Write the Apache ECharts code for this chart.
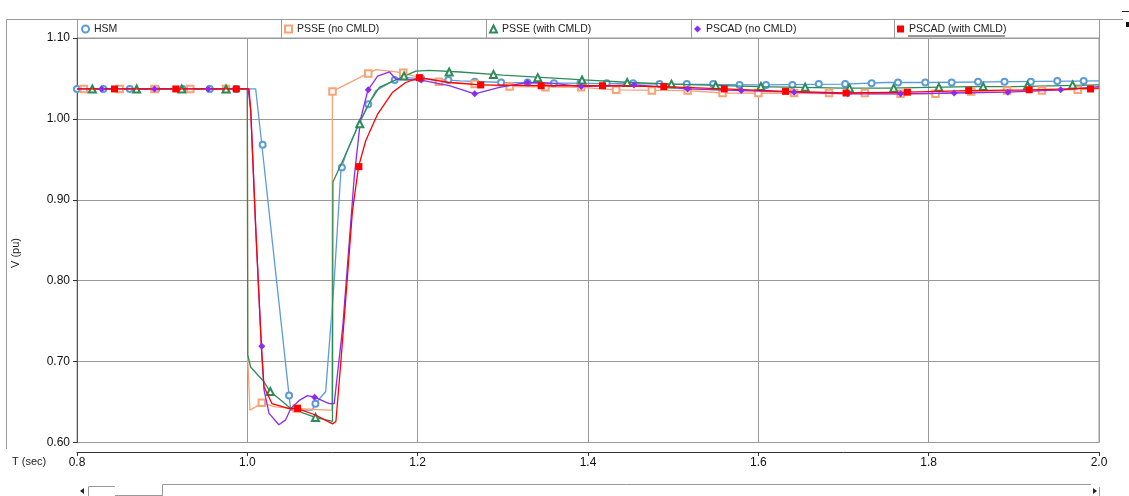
<!DOCTYPE html>
<html>
<head>
<meta charset="utf-8">
<title>V (pu) vs T (sec)</title>
<script src="https://cdn.jsdelivr.net/npm/echarts@6/dist/echarts.min.js"></script>
<style>
  html, body { margin: 0; padding: 0; background: #fff; }
  #chart { width: 1129px; height: 496px; }
</style>
</head>
<body>
<div id="chart"></div>
<script>
// tick labels
const xTickLabels = ['0.8', '1.0', '1.2', '1.4', '1.6', '1.8', '2.0'];
const yTickLabels = ['0.60', '0.70', '0.80', '0.90', '1.00', '1.10'];

const seriesNames = ['HSM', 'PSSE (no CMLD)', 'PSSE (with CMLD)', 'PSCAD (no CMLD)', 'PSCAD (with CMLD)'];

// [T (sec), V (pu)]
const hsmLine = [[0.8, 1.037], [1.0098, 1.037], [1.0165, 0.973], [1.049, 0.658], [1.051, 0.640], [1.076, 0.640],
  [1.080, 0.648], [1.092, 0.663], [1.102, 0.80], [1.110, 0.938], [1.116, 0.957], [1.131, 0.994], [1.141, 1.016],
  [1.151, 1.035], [1.1725, 1.048], [1.186, 1.051], [1.2, 1.050], [1.25, 1.047], [1.3, 1.045], [1.4, 1.044],
  [1.5, 1.043], [1.6, 1.042], [1.7, 1.043], [1.75, 1.045], [1.8, 1.045], [1.9, 1.046], [2.0, 1.047]];
const hsmMarks = [[0.800, 1.037], [0.831, 1.037], [0.862, 1.037], [0.893, 1.037], [0.924, 1.037], [0.956, 1.037],
  [0.987, 1.037], [1.018, 0.968], [1.049, 0.658], [1.080, 0.648], [1.111, 0.940], [1.142, 1.018], [1.173, 1.048],
  [1.204, 1.050], [1.236, 1.048], [1.267, 1.046], [1.298, 1.045], [1.329, 1.045], [1.360, 1.044], [1.391, 1.044],
  [1.422, 1.044], [1.453, 1.044], [1.484, 1.043], [1.516, 1.043], [1.547, 1.043], [1.578, 1.042], [1.609, 1.042],
  [1.640, 1.042], [1.671, 1.043], [1.702, 1.043], [1.733, 1.044], [1.764, 1.045], [1.796, 1.045], [1.827, 1.045],
  [1.858, 1.046], [1.889, 1.046], [1.920, 1.046], [1.951, 1.047], [1.982, 1.047]];

const psseNoLine = [[0.8, 1.037], [1.0, 1.037], [1.0005, 0.706], [1.003, 0.640], [1.004, 0.638], [1.0098, 0.644],
  [1.0165, 0.649], [1.033, 0.644], [1.057, 0.642], [1.096, 0.640], [1.0993, 0.640], [1.0999, 1.034], [1.141, 1.056],
  [1.151, 1.061], [1.175, 1.058], [1.2, 1.052], [1.225, 1.046], [1.267, 1.043], [1.308, 1.040], [1.392, 1.039],
  [1.433, 1.036], [1.517, 1.035], [1.558, 1.032], [1.767, 1.031], [1.808, 1.031], [1.850, 1.034], [1.933, 1.035],
  [2.0, 1.037]];
const psseNoMarks = [[0.808, 1.037], [0.850, 1.037], [0.891, 1.037], [0.933, 1.037], [0.975, 1.037], [1.017, 0.649],
  [1.058, 0.642], [1.100, 1.034], [1.142, 1.056], [1.183, 1.057], [1.225, 1.046], [1.267, 1.043], [1.308, 1.040],
  [1.350, 1.039], [1.392, 1.039], [1.433, 1.036], [1.475, 1.035], [1.517, 1.035], [1.558, 1.032], [1.600, 1.032],
  [1.642, 1.032], [1.683, 1.032], [1.725, 1.032], [1.767, 1.031], [1.808, 1.031], [1.850, 1.034], [1.892, 1.035],
  [1.933, 1.035], [1.975, 1.036]];

const psseWithLine = [[0.8, 1.037], [1.0, 1.037], [1.0005, 0.708], [1.004, 0.693], [1.018, 0.677], [1.027, 0.663],
  [1.051, 0.642], [1.080, 0.631], [1.100, 0.626], [1.1005, 0.922], [1.114, 0.953], [1.131, 0.994], [1.145, 1.023],
  [1.155, 1.039], [1.182, 1.052], [1.198, 1.059], [1.214, 1.060], [1.25, 1.058], [1.3, 1.054], [1.35, 1.051],
  [1.4, 1.048], [1.45, 1.045], [1.5, 1.043], [1.6, 1.040], [1.7, 1.038], [1.75, 1.038], [1.8, 1.039],
  [1.85, 1.040], [1.9, 1.040], [2.0, 1.042]];
const psseWithMarks = [[0.818, 1.037], [0.870, 1.037], [0.923, 1.037], [0.975, 1.037], [1.027, 0.663], [1.080, 0.631],
  [1.132, 0.994], [1.184, 1.053], [1.237, 1.058], [1.289, 1.055], [1.341, 1.051], [1.393, 1.048], [1.446, 1.045],
  [1.498, 1.043], [1.550, 1.041], [1.603, 1.040], [1.655, 1.039], [1.707, 1.038], [1.759, 1.038], [1.812, 1.039],
  [1.864, 1.040], [1.916, 1.041], [1.969, 1.042]];

const pscadNoLine = [[0.8, 1.037], [1.001, 1.037], [1.004, 1.010], [1.0098, 0.866], [1.0165, 0.719], [1.0196, 0.665],
  [1.0255, 0.636], [1.037, 0.622], [1.045, 0.628], [1.051, 0.642], [1.061, 0.652], [1.0706, 0.658], [1.079, 0.656],
  [1.096, 0.648], [1.102, 0.648], [1.112, 0.743], [1.118, 0.825], [1.1255, 0.928], [1.133, 1.000], [1.1417, 1.036],
  [1.153, 1.053], [1.167, 1.058], [1.1745, 1.049], [1.204, 1.048], [1.237, 1.041], [1.267, 1.031], [1.296, 1.039],
  [1.329, 1.045], [1.36, 1.044], [1.392, 1.040], [1.454, 1.042], [1.517, 1.037], [1.580, 1.035], [1.642, 1.033],
  [1.705, 1.031], [1.767, 1.031], [1.830, 1.032], [1.893, 1.033], [1.955, 1.036], [2.0, 1.040]];
const pscadNoMarks = [[0.829, 1.037], [0.891, 1.037], [0.954, 1.037], [1.017, 0.719], [1.079, 0.656], [1.142, 1.036],
  [1.204, 1.048], [1.267, 1.031], [1.329, 1.045], [1.392, 1.040], [1.454, 1.042], [1.517, 1.037], [1.580, 1.035],
  [1.642, 1.033], [1.705, 1.031], [1.767, 1.031], [1.830, 1.032], [1.893, 1.033], [1.955, 1.036]];

const pscadWithLine = [[0.8, 1.037], [1.002, 1.037], [1.004, 1.010], [1.0098, 0.866], [1.0165, 0.718], [1.0196, 0.669],
  [1.029, 0.648], [1.049, 0.642], [1.059, 0.642], [1.080, 0.634], [1.100, 0.623], [1.104, 0.626], [1.110, 0.702],
  [1.116, 0.784], [1.1235, 0.887], [1.1306, 0.941], [1.139, 0.973], [1.153, 1.006], [1.1706, 1.033], [1.186, 1.045],
  [1.202, 1.051], [1.237, 1.045], [1.274, 1.042], [1.345, 1.041], [1.417, 1.041], [1.489, 1.040], [1.560, 1.037],
  [1.632, 1.034], [1.703, 1.032], [1.775, 1.033], [1.847, 1.035], [1.918, 1.036], [2.0, 1.038]];
const pscadWithMarks = [[0.844, 1.037], [0.916, 1.037], [0.987, 1.037], [1.059, 0.642], [1.131, 0.941], [1.202, 1.051],
  [1.274, 1.042], [1.345, 1.041], [1.417, 1.041], [1.489, 1.040], [1.560, 1.037], [1.632, 1.034], [1.703, 1.032],
  [1.775, 1.033], [1.847, 1.035], [1.918, 1.036], [1.990, 1.037]];

const colors = ['#5b9bd8', '#f9a274', '#2e8b57', '#8b2cf0', '#ff0000'];
const symbols = ['emptyCircle', 'emptyRect', 'emptyTriangle', 'diamond', 'rect'];
const symbolSizes = [6, 6.5, 7, 7, 7];
const lines = [hsmLine, psseNoLine, psseWithLine, pscadNoLine, pscadWithLine];
const marks = [hsmMarks, psseNoMarks, psseWithMarks, pscadNoMarks, pscadWithMarks];

const font = '"Liberation Sans", Arial, sans-serif';
const cellLefts = [78, 281, 486, 691, 894];

const chart = echarts.init(document.getElementById('chart'));

const series = [];
seriesNames.forEach((name, i) => {
  series.push({
    name: name,
    type: 'line',
    data: lines[i],
    showSymbol: false,
    symbol: 'none',
    lineStyle: { color: colors[i], width: 1.3 },
    itemStyle: { color: colors[i] },
    z: 2 + i
  });
  series.push({
    name: name,
    type: 'scatter',
    data: marks[i],
    symbol: symbols[i],
    symbolSize: symbolSizes[i],
    itemStyle: { color: colors[i], borderWidth: 1, opacity: 1 },
    z: 3 + i
  });
});

const legends = seriesNames.map((name, i) => ({
  left: cellLefts[i] + 3,
  top: 23.5,
  padding: 0,
  itemWidth: 7,
  itemHeight: 7,
  selectedMode: false,
  textStyle: { fontSize: 10.5, color: '#222', fontFamily: font },
  data: [{ name: name, icon: symbols[i], itemStyle: { color: colors[i] } }]
}));

const gray = '#9a9a9a';
const graphic = [
  // outer frame
  { type: 'polyline', shape: { points: [[6.5, 449], [6.5, 19.5], [1123, 19.5]] }, style: { stroke: gray, fill: null, lineWidth: 1 } },
  // legend row
  { type: 'line', shape: { x1: 77.5, y1: 19.5, x2: 77.5, y2: 38 }, style: { stroke: gray } },
  { type: 'line', shape: { x1: 1099.5, y1: 19.5, x2: 1099.5, y2: 38 }, style: { stroke: gray } },
  { type: 'line', shape: { x1: 281.5, y1: 19.5, x2: 281.5, y2: 38 }, style: { stroke: gray } },
  { type: 'line', shape: { x1: 486.5, y1: 19.5, x2: 486.5, y2: 38 }, style: { stroke: gray } },
  { type: 'line', shape: { x1: 691.5, y1: 19.5, x2: 691.5, y2: 38 }, style: { stroke: gray } },
  { type: 'line', shape: { x1: 894.5, y1: 19.5, x2: 894.5, y2: 38 }, style: { stroke: gray } },
  // underline on last legend entry
  { type: 'line', shape: { x1: 908, y1: 36, x2: 1005, y2: 36 }, style: { stroke: '#333', lineWidth: 1 } },
  // axis names
  { type: 'text', left: 12, top: 456, style: { text: 'T (sec)', fontSize: 11, fill: '#222', fontFamily: font } },
  { type: 'text', x: 10, y: 268, rotation: Math.PI / 2, style: { text: 'V (pu)', fontSize: 11, fill: '#222', fontFamily: font, verticalAlign: 'top' } },
  // scrollbar remains at the bottom
  { type: 'polygon', shape: { points: [[84, 488], [84, 494], [80, 491]] }, style: { fill: '#222' } },
  { type: 'polyline', shape: { points: [[88.5, 496], [88.5, 486.5], [115, 486.5]] }, style: { stroke: gray, fill: null } },
  { type: 'line', shape: { x1: 115, y1: 495.5, x2: 162, y2: 495.5 }, style: { stroke: gray } },
  { type: 'polyline', shape: { points: [[162.5, 496], [162.5, 484.5], [1091, 484.5]] }, style: { stroke: gray, fill: null } },
  { type: 'line', shape: { x1: 1099.5, y1: 487, x2: 1099.5, y2: 496 }, style: { stroke: gray } },
  { type: 'polygon', shape: { points: [[1093, 488], [1093, 494], [1097, 491]] }, style: { fill: '#222' } },
  // top-right glyphs
  { type: 'line', shape: { x1: 1122, y1: 11.5, x2: 1129, y2: 11.5 }, style: { stroke: '#222' } },
  { type: 'rect', shape: { x: 1126, y: 22, width: 3, height: 5 }, style: { fill: '#111' } }
];

const option = {
  animation: false,
  backgroundColor: '#fff',
  legend: legends,
  graphic: graphic,
  grid: {
    left: 77,
    right: 30,
    top: 38,
    bottom: 53.5,
    show: true,
    borderColor: gray,
    borderWidth: 1
  },
  xAxis: {
    type: 'value',
    min: 0.8,
    max: 2.0,
    interval: 0.2,
    offset: 9.5,
    axisLine: { show: true, onZero: false, lineStyle: { color: '#333', width: 1 } },
    axisTick: { show: true, length: 4, lineStyle: { color: '#333' } },
    axisLabel: {
      margin: 5,
      fontSize: 12,
      color: '#111',
      fontFamily: font,
      formatter: v => xTickLabels[Math.round((v - 0.8) / 0.2)]
    },
    splitLine: { show: true, lineStyle: { color: gray, width: 1 } }
  },
  yAxis: {
    type: 'value',
    min: 0.6,
    max: 1.1,
    interval: 0.1,
    axisLine: { show: true, lineStyle: { color: '#555', width: 1 } },
    axisTick: { show: true, length: 4, lineStyle: { color: '#333' } },
    axisLabel: {
      margin: 7,
      fontSize: 12,
      color: '#111',
      fontFamily: font,
      formatter: v => yTickLabels[Math.round((v - 0.6) / 0.1)]
    },
    splitLine: { show: true, lineStyle: { color: gray, width: 1 } }
  },
  series: series
};

chart.setOption(option);
</script>
</body>
</html>
